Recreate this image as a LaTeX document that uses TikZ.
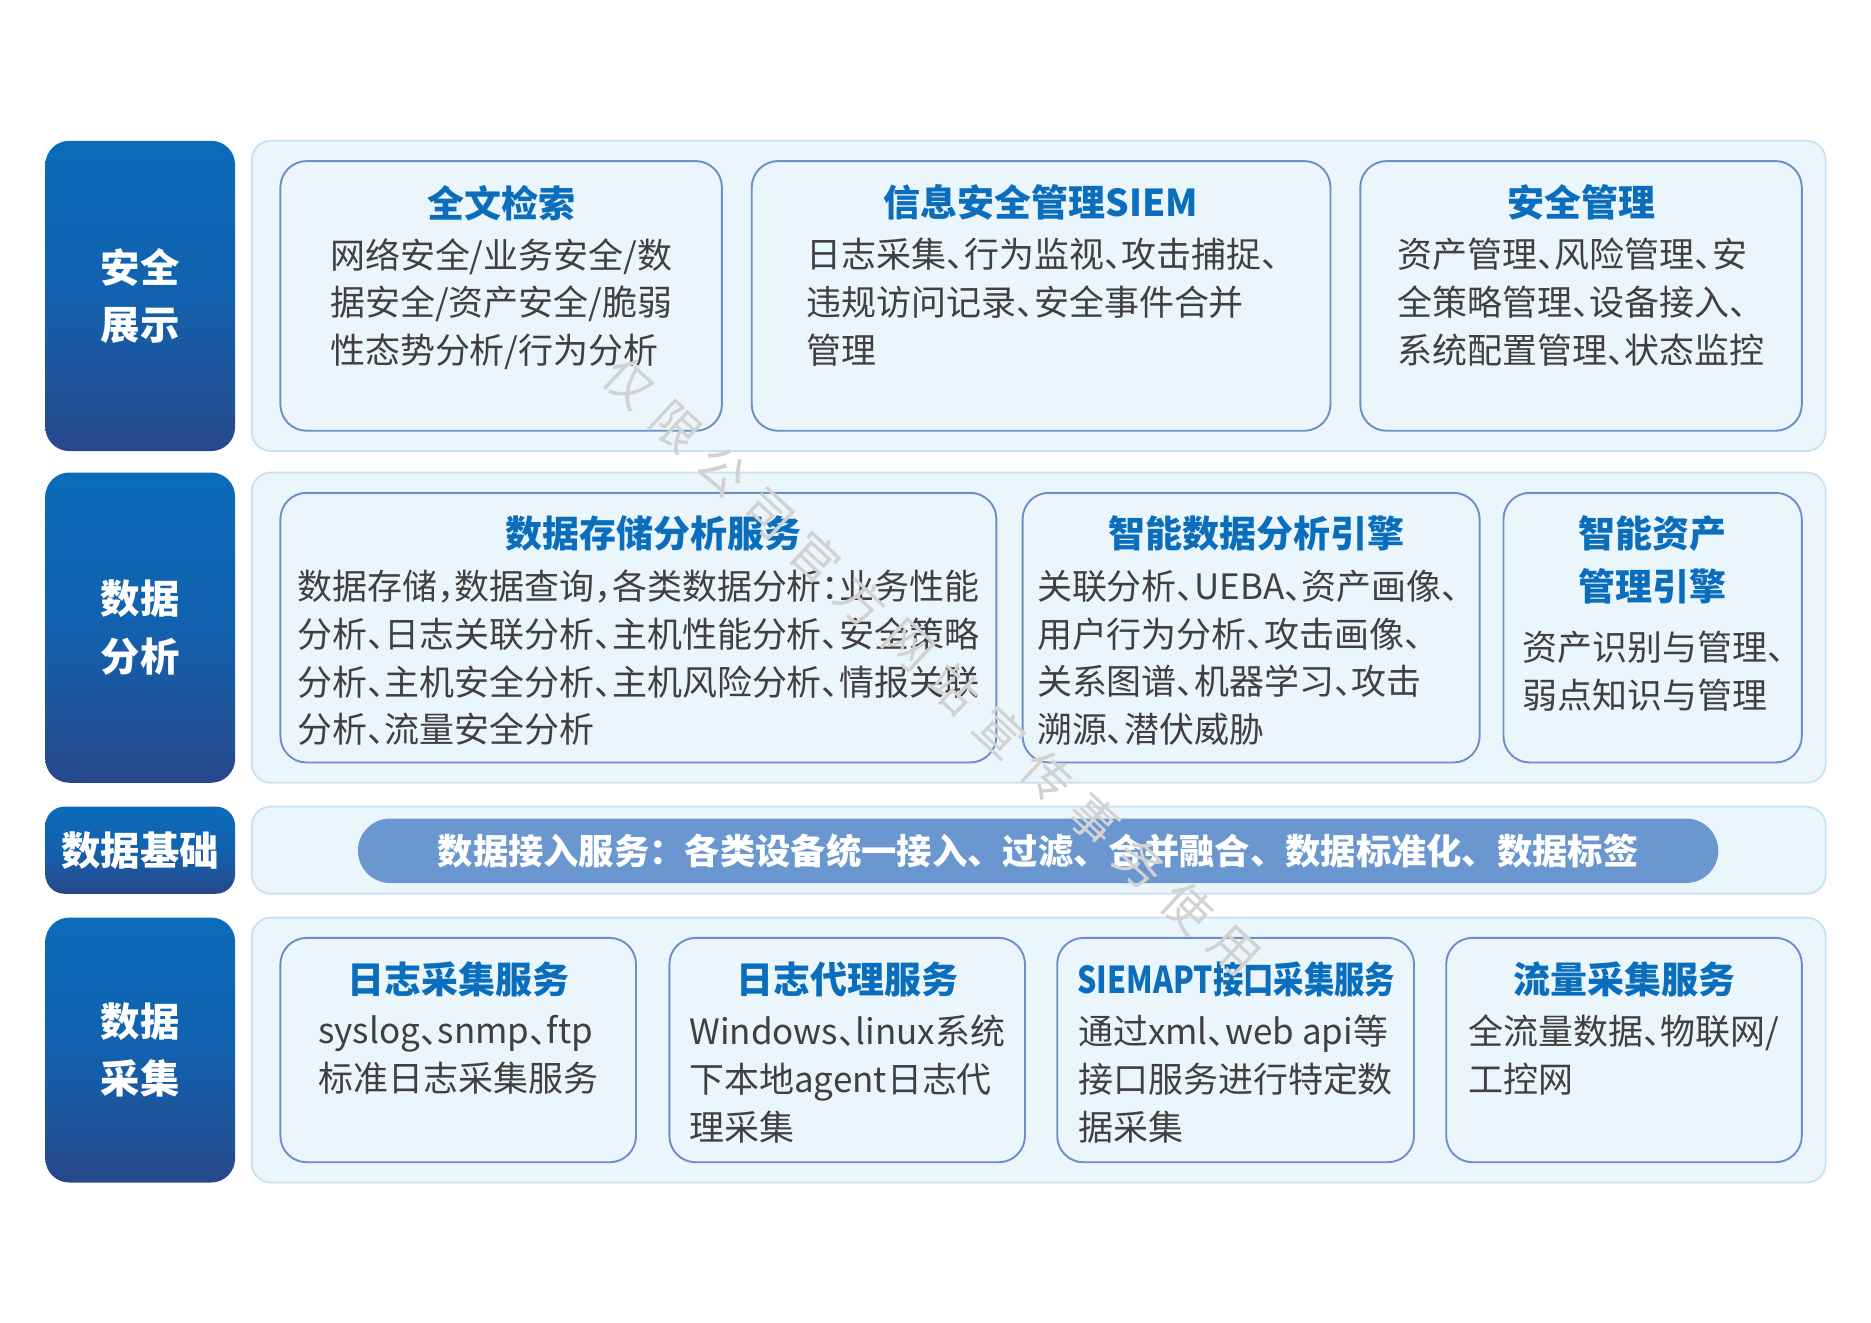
\documentclass[tikz,border=0pt]{standalone}
\usepackage{fontspec}
\setmainfont{Noto Sans CJK SC}
\newfontfamily\bodyf[RawFeature=+halt]{Noto Sans CJK SC}
\definecolor{lblTop}{HTML}{0A6BBA}
\definecolor{lblMid}{HTML}{1261AE}
\definecolor{lblBot}{HTML}{27488A}
\definecolor{outerFill}{HTML}{EAF5FC}
\definecolor{outerLine}{HTML}{C6E2F3}
\definecolor{innerLine}{HTML}{6D8FC8}
\definecolor{innerFill}{HTML}{EAF5FC}
\definecolor{titleC}{HTML}{0B6EBC}
\definecolor{bodyC}{HTML}{404040}
\definecolor{pillC}{HTML}{6A97CF}
\definecolor{wmC}{HTML}{D2D2D2}
\tikzset{
  lbl/.style={rounded corners=20pt, top color=lblTop, bottom color=lblBot, middle color=lblMid, draw=none, text=white,
    font=\bfseries\fontsize{33}{48}\selectfont, align=center, inner sep=0pt, minimum width=159pt},
  outer/.style={rounded corners=16pt, fill=outerFill, draw=outerLine, line width=1.5pt, minimum width=1319pt, inner sep=0pt},
  inner/.style={rounded corners=22pt, fill=innerFill, draw=innerLine, line width=1.6pt, inner sep=0pt},
  ttl/.style={text=titleC, font=\bfseries\fontsize{31}{44}\selectfont, inner sep=0pt, align=center},
  body/.style={text=bodyC, font=\bodyf\fontsize{29.3}{40}\selectfont, align=left, inner sep=0pt, anchor=north},
  pill/.style={rounded corners=27pt, fill=pillC, draw=none, text=white, font=\bfseries\fontsize{29.6}{40}\selectfont, inner sep=0pt},
  wm/.style={text=wmC, font=\fontsize{40}{40}\selectfont, rotate=-43, inner sep=0pt}
}
\begin{document}
\begin{tikzpicture}[x=1pt,y=-1pt]
\path[use as bounding box, fill=white] (0,0) rectangle (1568,1108.6);

% ---------- Row 1 ----------
\node[lbl, minimum height=260pt] (L1) at (117.5,248) {安全\\展示};
\node[outer, minimum height=260pt] (O1) at (870.5,248) {};
\node[inner, minimum width=370pt, minimum height=226pt] (B1a) at (420,248) {};
\node[inner, minimum width=485pt, minimum height=226pt] (B1b) at (872.5,248) {};
\node[inner, minimum width=370pt, minimum height=226pt] (B1c) at (1325,248) {};
\node[ttl] (T1a) at (420,170) {全文检索};
\node[ttl] (T1b) at (872.5,170) {信息安全管理SIEM};
\node[ttl] (T1c) at (1325,170) {安全管理};
\node[body] (D1a) at (420,199.5) {网络安全/业务安全/数\\据安全/资产安全/脆弱\\性态势分析/行为分析};
\node[body] (D1b) at (874,199.5) {日志采集、行为监视、攻击捕捉、\\违规访问记录、安全事件合并\\管理};
\node[body] (D1c) at (1325,199.5) {资产管理、风险管理、安\\全策略管理、设备接入、\\系统配置管理、状态监控};

% ---------- Row 2 ----------
\node[lbl, minimum height=260pt] (L2) at (117.5,526) {数据\\分析};
\node[outer, minimum height=260pt] (O2) at (870.5,526) {};
\node[inner, minimum width=600pt, minimum height=226pt] (B2a) at (535,526) {};
\node[inner, minimum width=383pt, minimum height=226pt] (B2b) at (1048.5,526) {};
\node[inner, minimum width=250pt, minimum height=226pt] (B2c) at (1385,526) {};
\node[ttl] (T2a) at (548,447) {数据存储分析服务};
\node[ttl] (T2b) at (1053,447) {智能数据分析引擎};
\node[ttl] (T2c) at (1385,469) {智能资产\\管理引擎};
\node[body] (D2a) at (535,477.5) {数据存储，数据查询，各类数据分析：业务性能\\分析、日志关联分析、主机性能分析、安全策略\\分析、主机安全分析、主机风险分析、情报关联\\分析、流量安全分析};
\node[body] (D2b) at (1046,477.5) {关联分析、UEBA、资产画像、\\用户行为分析、攻击画像、\\关系图谱、机器学习、攻击\\溯源、潜伏威胁};
\node[body] (D2c) at (1386,528.5) {资产识别与管理、\\弱点知识与管理};

% ---------- Row 3 ----------
\node[lbl, minimum height=73pt, rounded corners=16pt] (L3) at (117.5,712.5) {数据基础};
\node[outer, minimum height=73pt] (O3) at (870.5,712.5) {};
\node[pill, minimum width=1140pt, minimum height=54pt] (P3) at (870,713) {数据接入服务：各类设备统一接入、过滤、合并融合、数据标准化、数据标签};

% ---------- Row 4 ----------
\node[lbl, minimum height=222pt] (L4) at (117.5,880) {数据\\采集};
\node[outer, minimum height=222pt] (O4) at (870.5,880) {};
\node[inner, minimum width=298pt, minimum height=188pt] (B4a) at (384,880) {};
\node[inner, minimum width=298pt, minimum height=188pt] (B4b) at (710,880) {};
\node[inner, minimum width=299pt, minimum height=188pt] (B4c) at (1035.5,880) {};
\node[inner, minimum width=298pt, minimum height=188pt] (B4d) at (1361,880) {};
\node[ttl] (T4a) at (384,821) {日志采集服务};
\node[ttl] (T4b) at (710,821) {日志代理服务};
\node[ttl] (T4c) at (1036,821) {\scalebox{0.82}[1]{SIEMAPT接口采集服务}};
\node[ttl] (T4d) at (1361,821) {流量采集服务};
\node[body] (D4a) at (384,850.5) {syslog、snmp、ftp\\标准日志采集服务};
\node[body] (D4b) at (710,850.5) {Windows、linux系统\\下本地agent日志代\\理采集};
\node[body] (D4c) at (1035.5,850.5) {通过xml、web api等\\接口服务进行特定数\\据采集};
\node[body] (D4d) at (1361,850.5) {全流量数据、物联网/\\工控网};

% ---------- watermark ----------
\foreach \c [count=\i from 0] in {仅,限,公,司,官,方,网,站,宣,传,事,务,使,用}
  \node[wm] (wm\i) at ({527+39*\i},{321+36.6*\i}) {\c};
\end{tikzpicture}
\end{document}
